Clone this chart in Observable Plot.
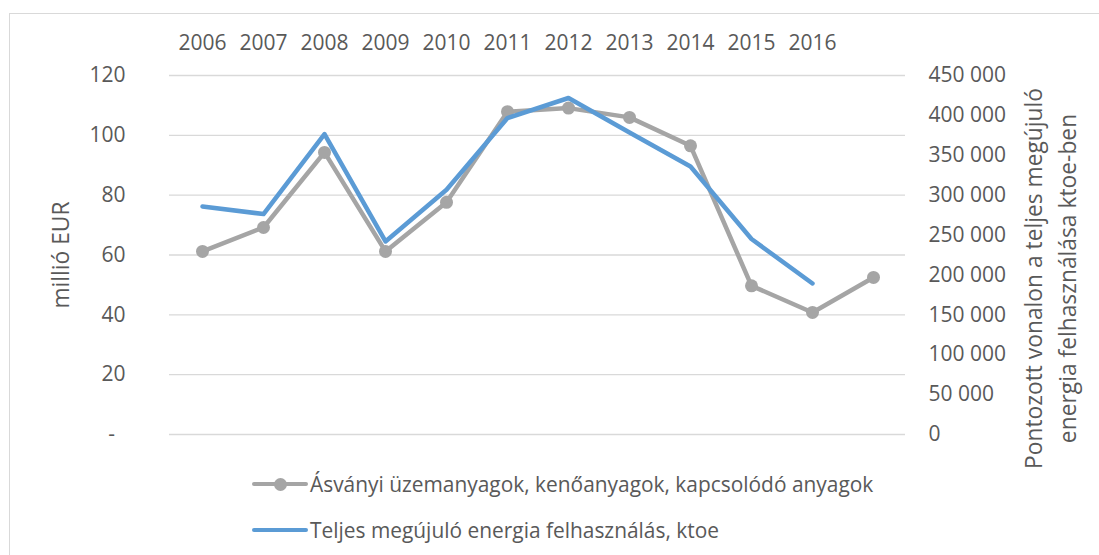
<!DOCTYPE html>
<html>
<head>
<meta charset="utf-8">
<script src="https://cdn.jsdelivr.net/npm/d3@7"></script>
<script src="https://cdn.jsdelivr.net/npm/@observablehq/plot@0.6"></script>
<style>
html, body { margin: 0; padding: 0; background: #fff; }
#wrap { position: relative; width: 1099px; height: 555px; overflow: hidden; font-family: "Open Sans", sans-serif; color: #595959; }
#frame { position: absolute; left: 9px; top: 13px; width: 1200px; height: 700px; border: 1px solid #D9D9D9; box-sizing: border-box; }
#chart { position: absolute; left: 0; top: 0; }
.leg { position: absolute; left: 252px; height: 24px; display: flex; align-items: center; font-size: 20.9px; white-space: nowrap; }
.sw { position: relative; width: 56px; height: 24px; margin-right: 2px; }
.sw .ln { position: absolute; left: 0; right: 0; top: 10px; height: 4px; border-radius: 2px; }
.sw .dt { position: absolute; left: 21.5px; top: 5.5px; width: 13px; height: 13px; border-radius: 50%; }
</style>
</head>
<body>
<div id="wrap">
  <div id="frame"></div>
  <div id="chart"></div>
  <div class="leg" style="top:472px"><div class="sw"><div class="ln" style="background:#A5A5A5"></div><div class="dt" style="background:#A5A5A5"></div></div><span id="leg1"></span></div>
  <div class="leg" style="top:518px"><div class="sw"><div class="ln" style="background:#5B9BD5"></div></div><span id="leg2"></span></div>
</div>
<script>
// Categories (12th category has no label in the original)
const categories = ["2006","2007","2008","2009","2010","2011","2012","2013","2014","2015","2016","2017"];
const xTickLabels = ["2006","2007","2008","2009","2010","2011","2012","2013","2014","2015","2016",""];

// Series 1: Ásványi üzemanyagok ... (millió EUR, left axis)
const mineralFuels = [61.2, 69.2, 94.3, 61.2, 77.6, 107.9, 109.1, 106.0, 96.5, 49.7, 40.8, 52.5];
// Series 2: Teljes megújuló energia felhasználás, ktoe (right axis)
const renewableKtoe = [285900, 276300, 376600, 242000, 306800, 396700, 421800, 378600, 336000, 245000, 189300];

// Tick values / labels
const leftTicks = [0, 20, 40, 60, 80, 100, 120];
const leftTickLabels = ["-", "20", "40", "60", "80", "100", "120"];
const rightTicks = [0, 50000, 100000, 150000, 200000, 250000, 300000, 350000, 400000, 450000];

const seriesNames = ["Ásványi üzemanyagok, kenőanyagok, kapcsolódó anyagok", "Teljes megújuló energia felhasználás, ktoe"];
const leftTitle = "millió EUR";
const rightTitle = "Pontozott vonalon a teljes megújuló\nenergia felhasználása ktoe-ben";

const leftMax = 120, rightMax = 450000;
const k = leftMax / rightMax;

const grayData = mineralFuels.map((v, i) => ({year: categories[i], value: v}));
const blueData = renewableKtoe.map((v, i) => ({year: categories[i], value: v}));

const fmt = d3.formatLocale({decimal: ",", thousands: "\u00a0", grouping: [3], currency: ["", ""]}).format(",");

const FS = 21;
const TFS = 22.8;
const TXT = "#595959";

const chart = Plot.plot({
  width: 1099,
  height: 460,
  marginTop: 75,
  marginBottom: 26,
  marginLeft: 169,
  marginRight: 194,
  x: {type: "point", domain: categories, padding: 0.5, axis: null},
  y: {domain: [0, leftMax], axis: null},
  style: {fontFamily: "'Open Sans', sans-serif", fontSize: FS + "px", color: TXT, background: "transparent", overflow: "visible"},
  marks: [
    Plot.gridY(leftTicks, {stroke: "#D9D9D9", strokeOpacity: 1, strokeWidth: 1.3}),
    // top category labels
    Plot.text(categories, {x: d => d, text: (d, i) => xTickLabels[i], frameAnchor: "top", dy: -32.5, textAnchor: "middle", lineAnchor: "middle", fontSize: FS, fill: TXT}),
    // left axis labels
    Plot.text(leftTicks.slice(1), {y: d => d, text: (d, i) => leftTickLabels[i + 1], frameAnchor: "left", textAnchor: "end", dx: -44, fontSize: FS, fill: TXT}),
    Plot.text(leftTicks.slice(0, 1), {y: d => d, text: () => leftTickLabels[0], frameAnchor: "left", textAnchor: "middle", dx: -58, fontSize: FS, fill: TXT}),
    // right axis labels
    Plot.text(rightTicks, {y: d => d * k, text: d => fmt(d), frameAnchor: "right", textAnchor: "start", dx: 23, fontSize: FS, fill: TXT}),
    // axis titles
    Plot.text([leftTitle], {text: d => d, frameAnchor: "left", textAnchor: "middle", lineAnchor: "middle", dx: -108, rotate: -90, fontSize: TFS, fill: TXT}),
    Plot.text([rightTitle], {text: d => d, frameAnchor: "right", textAnchor: "middle", lineAnchor: "middle", dx: 143, dy: 23.5, rotate: -90, lineHeight: 1.49, fontSize: TFS, fill: TXT}),
    // series
    Plot.line(grayData, {x: "year", y: "value", stroke: "#A5A5A5", strokeWidth: 4.5, strokeLinejoin: "round", strokeLinecap: "round"}),
    Plot.dot(grayData, {x: "year", y: "value", r: 6.5, fill: "#A5A5A5", stroke: null}),
    Plot.line(blueData, {x: "year", y: d => d.value * k, stroke: "#5B9BD5", strokeWidth: 4.5, strokeLinejoin: "round", strokeLinecap: "round"})
  ]
});
document.getElementById("chart").appendChild(chart);
document.getElementById("leg1").textContent = seriesNames[0];
document.getElementById("leg2").textContent = seriesNames[1];
</script>
</body>
</html>
